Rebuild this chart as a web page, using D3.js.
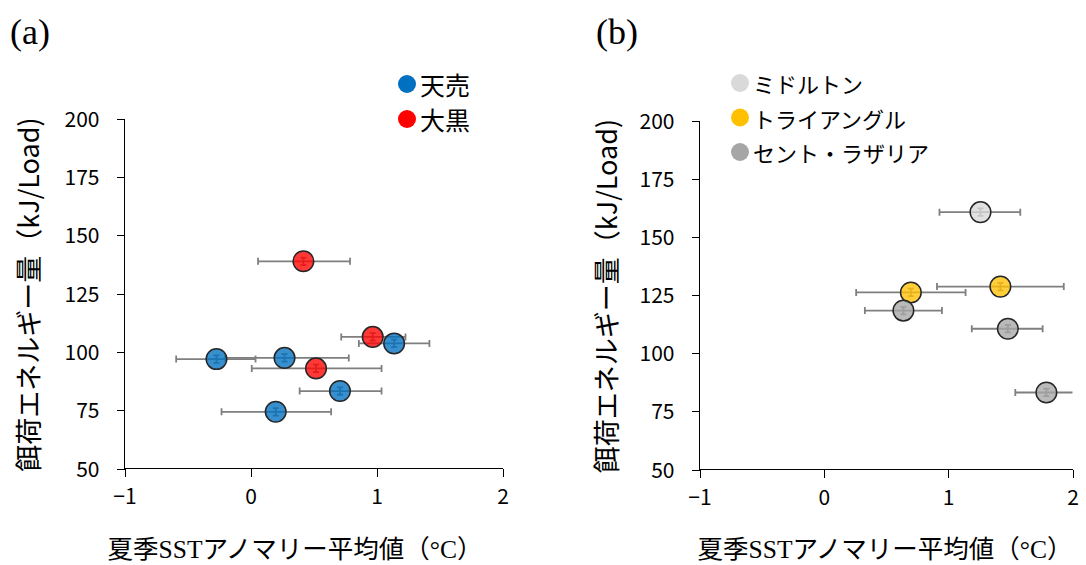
<!DOCTYPE html>
<html>
<head>
<meta charset="utf-8">
<script src="https://cdn.jsdelivr.net/npm/d3@7"></script>
<style>
  body { margin: 0; background: #fff; }
  svg { display: block; }
  .tick text { font-family: "Noto Sans CJK JP", "Noto Sans", sans-serif; font-size: 21px; fill: #000; }
  .jp { font-family: "Noto Sans CJK JP", sans-serif; fill: #000; }
  .serif { font-family: "Liberation Serif", "DejaVu Serif", serif; }
</style>
</head>
<body>
<svg id="chart" width="1086" height="565"></svg>
<script>
// axis ticks
const xTicks = [-1, 0, 1, 2];
const yTicks = [50, 75, 100, 125, 150, 175, 200];

// panel (a) : 天売 / 大黒   x, y, x error low, x error high
const teuriX   = [1.14, -0.27, 0.27, 0.71, 0.20];
const teuriY   = [103.6, 96.9, 97.4, 83.2, 74.3];
const teuriLo  = [0.86, -0.59, -0.20, 0.39, -0.23];
const teuriHi  = [1.42, 0.04, 0.78, 1.04, 0.64];

const daikokuX  = [0.42, 0.97, 0.52];
const daikokuY  = [138.8, 106.4, 92.9];
const daikokuLo = [0.06, 0.72, 0.01];
const daikokuHi = [0.79, 1.23, 1.04];

// panel (b) : ミドルトン / トライアングル / セント・ラザリア
const middletonX  = [1.26];
const middletonY  = [160.6];
const middletonLo = [0.93];
const middletonHi = [1.58];

const triangleX  = [1.42, 0.70];
const triangleY  = [128.6, 126.1];
const triangleLo = [0.91, 0.26];
const triangleHi = [1.93, 1.14];

const lazariaX  = [0.64, 1.48, 1.79];
const lazariaY  = [118.3, 110.5, 83.1];
const lazariaLo = [0.33, 1.19, 1.54];
const lazariaHi = [0.95, 1.76, 2.05];

const yErr = 1.6;   // small vertical error bars

function pts(xs, ys, lo, hi) {
  return xs.map((x, i) => ({ x: x, y: ys[i], lo: lo[i], hi: hi[i] }));
}

const panels = [
  {
    tag: "(a)", tagX: 10, x0: 124.5, x1: 502.5, y0: 468.5, y1: 118.5,
    yLabelX: 27, xLabelX: 295,
    legend: { x: 407, y: 84, gap: 35, size: 25 },
    series: [
      { name: "天売", color: "#0070C0", data: pts(teuriX, teuriY, teuriLo, teuriHi) },
      { name: "大黒", color: "#FF0000", data: pts(daikokuX, daikokuY, daikokuLo, daikokuHi) }
    ]
  },
  {
    tag: "(b)", tagX: 596, x0: 699.5, x1: 1072.5, y0: 469.5, y1: 120.5,
    yLabelX: 605, xLabelX: 885,
    legend: { x: 740, y: 83, gap: 34.5, size: 22 },
    series: [
      { name: "ミドルトン", color: "#D9D9D9", data: pts(middletonX, middletonY, middletonLo, middletonHi) },
      { name: "トライアングル", color: "#FFC000", data: pts(triangleX, triangleY, triangleLo, triangleHi) },
      { name: "セント・ラザリア", color: "#A6A6A6", data: pts(lazariaX, lazariaY, lazariaLo, lazariaHi) }
    ]
  }
];

const svg = d3.select("#chart");

panels.forEach((p, pi) => {
  const x = d3.scaleLinear().domain([-1, 2]).range([p.x0, p.x1]);
  const y = d3.scaleLinear().domain([50, 200]).range([p.y0, p.y1]);

  // panel tag
  svg.append("text")
    .attr("class", "serif")
    .attr("x", p.tagX).attr("y", 44)
    .style("font-size", "36px")
    .text(p.tag);

  // axes
  const gx = svg.append("g")
    .attr("transform", `translate(0,${p.y0})`)
    .call(d3.axisBottom(x).tickValues(xTicks).tickSize(8).tickPadding(13).tickFormat(d3.format("d")));
  const gy = svg.append("g")
    .attr("transform", `translate(${p.x0},0)`)
    .call(d3.axisLeft(y).tickValues(yTicks).tickSize(8).tickPadding(17));
  [gx, gy].forEach(g => {
    g.select(".domain").attr("stroke", "#000").attr("stroke-width", 1);
    g.selectAll(".tick line").attr("stroke", "#000").attr("stroke-width", 1);
    g.attr("shape-rendering", "crispEdges");
  });
  gx.selectAll(".domain").attr("d", `M${p.x0},0H${p.x1}`);
  gy.selectAll(".domain").attr("d", `M0,${p.y0}V${p.y1}`);
  gy.selectAll(".tick text").attr("dy", "0.36em");

  // axis titles
  svg.append("text")
    .attr("class", "jp")
    .attr("transform", `translate(${p.yLabelX},${(p.y0 + p.y1) / 2 + 1}) rotate(-90)`)
    .attr("text-anchor", "middle")
    .attr("dominant-baseline", "central")
    .style("font-size", "27px")
    .text("餌荷エネルギー量（kJ/Load)");

  const xl = svg.append("text")
    .attr("class", "jp")
    .attr("x", p.xLabelX).attr("y", 558)
    .attr("text-anchor", "middle")
    .style("font-size", "25.5px");
  xl.append("tspan").text("夏季");
  xl.append("tspan").attr("class", "serif").text("SST");
  xl.append("tspan").text("アノマリー平均値（");
  xl.append("tspan").attr("class", "serif").text("°C");
  xl.append("tspan").text("）");

  // clip to plot area
  const clipId = "clip" + pi;
  svg.append("clipPath").attr("id", clipId)
    .append("rect")
    .attr("x", p.x0).attr("y", p.y1 - 20)
    .attr("width", p.x1 - p.x0).attr("height", p.y0 - p.y1 + 20);

  const plot = svg.append("g").attr("clip-path", `url(#${clipId})`);

  const all = p.series.flatMap(s => s.data.map(d => Object.assign({ color: s.color }, d)));

  // error bars (drawn behind the markers)
  const eb = plot.append("g").attr("stroke", "#7f7f7f").attr("stroke-width", 1.8).attr("fill", "none");
  all.forEach(d => {
    const cy = y(d.y);
    eb.append("line").attr("x1", x(d.lo)).attr("x2", x(d.hi)).attr("y1", cy).attr("y2", cy);
    [d.lo, d.hi].forEach(v => {
      eb.append("line").attr("x1", x(v)).attr("x2", x(v)).attr("y1", cy - 3.5).attr("y2", cy + 3.5);
    });
    const cx = x(d.x);
    eb.append("line").attr("x1", cx).attr("x2", cx).attr("y1", y(d.y + yErr)).attr("y2", y(d.y - yErr));
    [d.y + yErr, d.y - yErr].forEach(v => {
      eb.append("line").attr("x1", cx - 3).attr("x2", cx + 3).attr("y1", y(v)).attr("y2", y(v));
    });
  });

  // markers
  plot.append("g")
    .selectAll("circle")
    .data(all)
    .enter()
    .append("circle")
    .attr("cx", d => x(d.x))
    .attr("cy", d => y(d.y))
    .attr("r", 10.3)
    .attr("fill", d => d.color)
    .attr("fill-opacity", 0.78)
    .attr("stroke", "#262626")
    .attr("stroke-width", 1.5);

  // legend
  const lg = svg.append("g");
  p.series.forEach((s, i) => {
    const ly = p.legend.y + i * p.legend.gap;
    lg.append("circle").attr("cx", p.legend.x).attr("cy", ly).attr("r", 9).attr("fill", s.color);
    lg.append("text")
      .attr("class", "jp")
      .attr("x", p.legend.x + 13).attr("y", ly)
      .attr("dominant-baseline", "central")
      .style("font-size", p.legend.size + "px")
      .text(s.name);
  });
});
</script>
</body>
</html>
